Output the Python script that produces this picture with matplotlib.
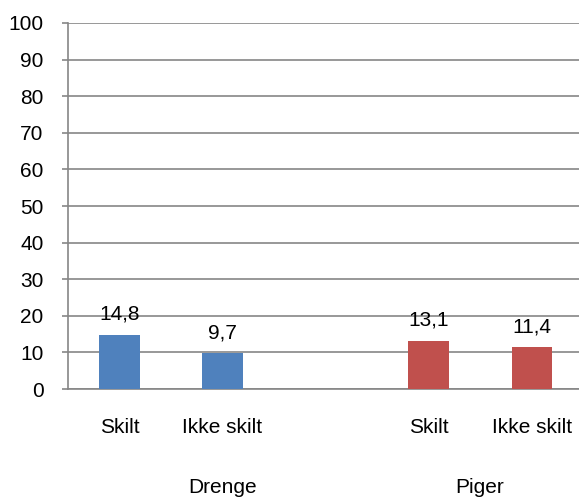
import matplotlib.pyplot as plt

plt.rcParams['font.family'] = ['Liberation Sans', 'DejaVu Sans']

# data
categories = ['Skilt', 'Ikke skilt', '', 'Skilt', 'Ikke skilt']
values = [14.8, 9.7, None, 13.1, 11.4]
groups = ['Drenge', 'Piger']
group_pos = [1.0, 3.5]
blue = '#4F81BD'
red = '#C0504D'
bar_colors = [blue, blue, None, red, red]
fs = 15

fig = plt.figure(figsize=(5.79, 4.98), dpi=100)
ax = fig.add_axes([68 / 579, 1 - 389 / 498, 1 - 68 / 579, 366 / 498])

for i, (v, c) in enumerate(zip(values, bar_colors)):
    if v is None:
        continue
    b = ax.bar(i, v, width=0.39, color=c, zorder=3)
    ax.bar_label(b, labels=[f'{v:.1f}'.replace('.', ',')], padding=8, fontsize=fs)

ax.set_ylim(0, 100)
ax.set_xlim(-0.5, 4.46)
ax.set_yticks(range(0, 101, 10))
ax.yaxis.grid(True, color='#868686', linewidth=1.2, zorder=0)
ax.set_xticks(range(len(categories)))
ax.set_xticklabels(categories, fontsize=fs)
ax.tick_params(axis='x', length=0, pad=21)
ax.tick_params(axis='y', length=4.5, width=1.2, color='#868686', pad=13, labelsize=fs)

for s in ['top', 'right']:
    ax.spines[s].set_visible(False)
ax.spines['left'].set_color('#868686')
ax.spines['left'].set_linewidth(1.2)
ax.spines['bottom'].set_color('#868686')
ax.spines['bottom'].set_linewidth(1.2)

for g, p in zip(groups, group_pos):
    ax.text(p, -0.27, g, transform=ax.get_xaxis_transform(), ha='center', va='center', fontsize=fs)

fig.savefig('out.png', dpi=100)
